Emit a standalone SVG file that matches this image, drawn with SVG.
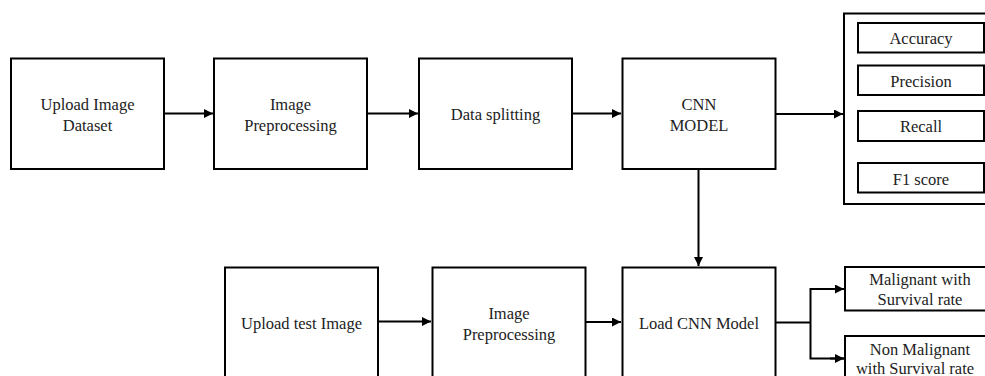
<svg xmlns="http://www.w3.org/2000/svg" width="985" height="376" viewBox="0 0 985 376">
  <style>
    .box { fill: #fff; stroke: #000; stroke-width: 2; }
    .lbl { font-size: 16.5px; fill: #222; text-anchor: middle; }
    .wire { fill: none; stroke: #000; stroke-width: 2; }
  </style>
  <defs>
    <marker id="arrow" viewBox="0 0 10 10" refX="10" refY="5" markerWidth="9" markerHeight="9" markerUnits="userSpaceOnUse" orient="auto">
      <path d="M0,0 L10,5 L0,10 z" fill="#000"/>
    </marker>
  </defs>
  <rect width="985" height="376" fill="#fff"/>

  <g id="connectors">
    <line class="wire" x1="164" y1="113.5" x2="213" y2="113.5" marker-end="url(#arrow)"/>
    <line class="wire" x1="367" y1="113.5" x2="418" y2="113.5" marker-end="url(#arrow)"/>
    <line class="wire" x1="572" y1="113.5" x2="621" y2="113.5" marker-end="url(#arrow)"/>
    <line class="wire" x1="776" y1="114" x2="843" y2="114" marker-end="url(#arrow)"/>
    <line class="wire" x1="698.5" y1="169" x2="698.5" y2="266" marker-end="url(#arrow)"/>
    <line class="wire" x1="378" y1="321.5" x2="431" y2="321.5" marker-end="url(#arrow)"/>
    <line class="wire" x1="586" y1="322" x2="621" y2="322" marker-end="url(#arrow)"/>
    <polyline class="wire" points="776,322.5 810.5,322.5"/>
    <polyline class="wire" points="844,289 810.5,289 810.5,358.5 844,358.5"/>
    <line class="wire" x1="830" y1="289" x2="844" y2="289" marker-end="url(#arrow)"/>
    <line class="wire" x1="830" y1="358.5" x2="844" y2="358.5" marker-end="url(#arrow)"/>
  </g>

  <g font-family="'Liberation Serif', Tinos, 'DejaVu Serif', serif">
  <g id="upload-dataset">
    <rect class="box" x="11" y="58.5" width="153" height="110.5"/>
    <text class="lbl" x="87.5" y="110">Upload Image</text>
    <text class="lbl" x="87.5" y="131">Dataset</text>
  </g>
  <g id="preprocess-train">
    <rect class="box" x="214" y="58.5" width="153" height="110.5"/>
    <text class="lbl" x="290.5" y="110">Image</text>
    <text class="lbl" x="290.5" y="131">Preprocessing</text>
  </g>
  <g id="data-splitting">
    <rect class="box" x="419" y="58.5" width="153" height="110.5"/>
    <text class="lbl" x="495.5" y="120">Data splitting</text>
  </g>
  <g id="cnn-model">
    <rect class="box" x="622.5" y="58.5" width="153" height="110.5"/>
    <text class="lbl" x="699" y="110">CNN</text>
    <text class="lbl" x="699" y="131">MODEL</text>
  </g>

  <g id="metrics">
    <rect class="box" x="844" y="13.5" width="150" height="190.5"/>
    <rect class="box" x="858" y="23" width="126" height="29.5"/>
    <text class="lbl" x="921" y="44">Accuracy</text>
    <rect class="box" x="858" y="65.5" width="126" height="29.5"/>
    <text class="lbl" x="921" y="86.5">Precision</text>
    <rect class="box" x="858" y="111" width="126" height="30"/>
    <text class="lbl" x="921" y="132">Recall</text>
    <rect class="box" x="858" y="163" width="126" height="29.5"/>
    <text class="lbl" x="921" y="184.5">F1 score</text>
  </g>

  <g id="upload-test">
    <rect class="box" x="225" y="267.5" width="153" height="120"/>
    <text class="lbl" x="301.5" y="328.5">Upload test Image</text>
  </g>
  <g id="preprocess-test">
    <rect class="box" x="432.5" y="267.5" width="153" height="120"/>
    <text class="lbl" x="509" y="318.5">Image</text>
    <text class="lbl" x="509" y="339.5">Preprocessing</text>
  </g>
  <g id="load-cnn">
    <rect class="box" x="622.5" y="267.5" width="153" height="120"/>
    <text class="lbl" x="699" y="328.5">Load CNN Model</text>
  </g>

  <g id="malignant">
    <rect class="box" x="845" y="267" width="150" height="43.5"/>
    <text class="lbl" x="920" y="285">Malignant with</text>
    <text class="lbl" x="920" y="305">Survival rate</text>
  </g>
  <g id="non-malignant">
    <rect class="box" x="845" y="336" width="150" height="50"/>
    <text class="lbl" x="920" y="355">Non Malignant</text>
    <text class="lbl" x="915" y="373.5">with Survival rate</text>
  </g>
  </g>
</svg>
